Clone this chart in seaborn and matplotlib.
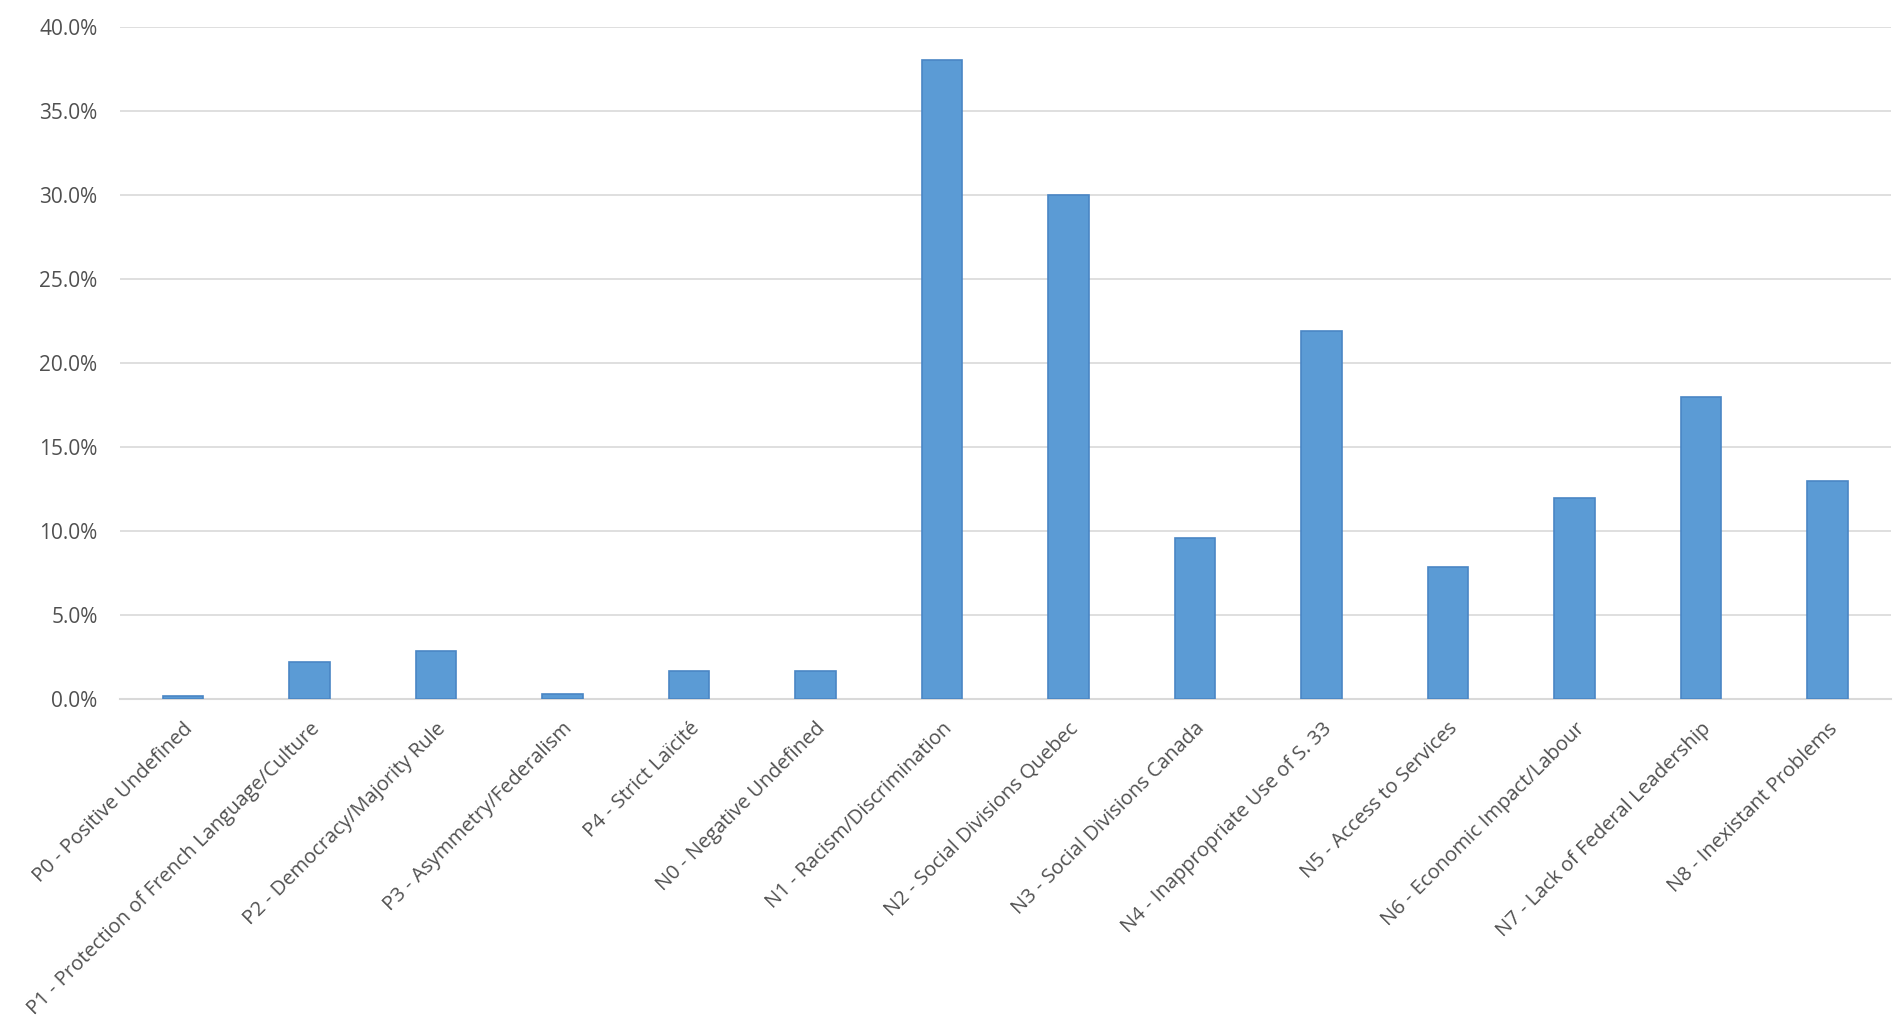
import matplotlib
matplotlib.use("Agg")
import matplotlib.pyplot as plt
import seaborn as sns
import pandas as pd
from matplotlib.ticker import FuncFormatter

# categories and shares (%)
categories = [
    "P0 - Positive Undefined",
    "P1 - Protection of French Language/Culture",
    "P2 - Democracy/Majority Rule",
    "P3 - Asymmetry/Federalism",
    "P4 - Strict Laïcité",
    "N0 - Negative Undefined",
    "N1 - Racism/Discrimination",
    "N2 - Social Divisions Quebec",
    "N3 - Social Divisions Canada",
    "N4 - Inappropriate Use of S. 33",
    "N5 - Access to Services",
    "N6 - Economic Impact/Labour",
    "N7 - Lack of Federal Leadership",
    "N8 - Inexistant Problems",
]
shares = [0.2, 2.2, 2.9, 0.3, 1.7, 1.7, 38.0, 30.0, 9.6, 21.9, 7.9, 12.0, 18.0, 13.0]
y_ticks = [0, 5, 10, 15, 20, 25, 30, 35, 40]

df = pd.DataFrame({"category": categories, "share": shares})

sns.set_theme(style="white")
plt.rcParams['font.family'] = ['Open Sans', 'DejaVu Sans']

fig = plt.figure(figsize=(19.02, 10.33), dpi=100)
ax = fig.add_axes([0.063, 0.323, 0.931, 0.651])

sns.barplot(data=df, x="category", y="share", color="#5B9BD5", width=0.32,
            edgecolor="#4A86C5", linewidth=1.2, saturation=1, ax=ax, zorder=3)

ax.set_ylim(0, 40)
ax.set_xlim(-0.5, len(categories) - 0.5)
ax.set_yticks(y_ticks)
ax.yaxis.set_major_formatter(FuncFormatter(lambda v, p: f"{v:.1f}%"))
ax.grid(axis="y", color="#D9D9D9", linewidth=1.2, zorder=0)
ax.set_xlabel("")
ax.set_ylabel("")

for s in ["top", "right", "left"]:
    ax.spines[s].set_visible(False)
ax.spines["bottom"].set_color("#D9D9D9")
ax.spines["bottom"].set_linewidth(1.5)

ax.tick_params(axis="both", length=0, colors="#505050")
ax.tick_params(axis="y", pad=16, labelsize=15)
ax.tick_params(axis="x", pad=14)
plt.setp(ax.get_xticklabels(), rotation=45, ha="right", rotation_mode="anchor",
         fontsize=14.5)

fig.savefig("out.png", dpi=100, facecolor="white")
